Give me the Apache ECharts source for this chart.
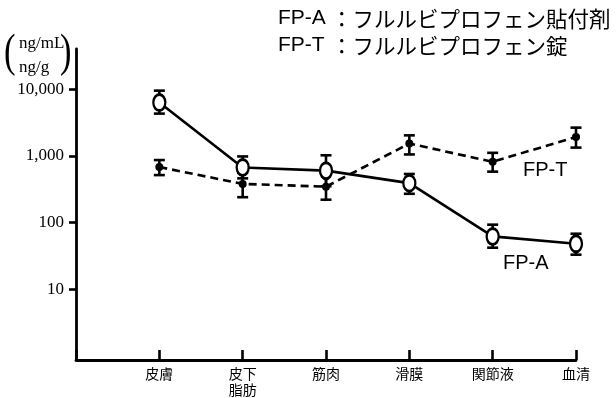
<!DOCTYPE html>
<html>
<head>
<meta charset="utf-8">
<script src="https://cdn.jsdelivr.net/npm/echarts@6/dist/echarts.min.js"></script>
<style>
  html, body { margin: 0; padding: 0; background: #fff; }
  #chart { width: 616px; height: 398px; }
</style>
</head>
<body>
<div id="chart"></div>
<script>
// Tissue / fluid categories on the x axis
const categories = ['皮膚', '皮下\n脂肪', '筋肉', '滑膜', '関節液', '血清'];

// FP-A (patch): mean concentration and error-bar limits
const fpaMean = [6300, 670, 600, 390, 62, 48];
const fpaLow  = [4300, 460, 350, 270, 42, 33];
const fpaHigh = [9500, 980, 1020, 535, 93, 68];

// FP-T (tablet): mean concentration and error-bar limits
const fptMean = [680, 380, 345, 1530, 815, 1920];
const fptLow  = [515, 240, 220, 1050, 580, 1330];
const fptHigh = [865, 560, 540, 2030, 1110, 2650];

// Y-axis tick values
const yTicks = [10, 100, 1000, 10000];

const pts = (arr) => arr.map((v, i) => [i + 1, v]);
const bars = (lo, hi) => lo.map((v, i) => [i + 1, v, hi[i]]);

function errorBar(params, api) {
  const x = api.value(0);
  const lo = api.coord([x, api.value(1)]);
  const hi = api.coord([x, api.value(2)]);
  const half = 5.5;
  const style = { stroke: '#000', lineWidth: 2.6, fill: null };
  return {
    type: 'group',
    children: [
      { type: 'line', shape: { x1: lo[0], y1: lo[1], x2: hi[0], y2: hi[1] }, style },
      { type: 'line', shape: { x1: lo[0] - half, y1: lo[1], x2: lo[0] + half, y2: lo[1] }, style },
      { type: 'line', shape: { x1: hi[0] - half, y1: hi[1], x2: hi[0] + half, y2: hi[1] }, style }
    ]
  };
}

const chart = echarts.init(document.getElementById('chart'), null, { renderer: 'canvas' });

const serif = '"Liberation Serif", "DejaVu Serif", serif';
const sans = '"Liberation Sans", "Noto Sans CJK JP", sans-serif';
const cjk = '"Noto Sans CJK JP", sans-serif';

chart.setOption({
  animation: false,
  backgroundColor: '#fff',
  grid: { left: 76, right: 40, top: 49, bottom: 37 },
  xAxis: {
    type: 'value',
    min: 0,
    max: categories.length,
    interval: 1,
    splitLine: { show: false },
    axisLine: { lineStyle: { color: '#000', width: 2.8 } },
    axisTick: { inside: true, length: 10, lineStyle: { color: '#000', width: 2.6 } },
    axisLabel: {
      margin: 6,
      color: '#000',
      fontFamily: cjk,
      fontSize: 14,
      lineHeight: 16,
      verticalAlign: 'top',
      formatter: (v) => (v >= 1 && v <= categories.length) ? categories[v - 1] : ''
    }
  },
  yAxis: {
    type: 'log',
    logBase: 10,
    min: 0.87,
    max: 40000,
    splitLine: { show: false },
    axisLine: { show: true, lineStyle: { color: '#000', width: 2.8 } },
    axisTick: { show: true, length: 7, customValues: yTicks, lineStyle: { color: '#000', width: 2.6 } },
    axisLabel: {
      margin: 12,
      color: '#000',
      fontFamily: serif,
      fontSize: 17,
      customValues: yTicks,
      formatter: (v) => Math.round(v).toLocaleString('en-US')
    }
  },
  series: [
    {
      name: 'FP-T',
      type: 'line',
      data: pts(fptMean),
      z: 2,
      symbol: 'circle',
      symbolSize: 8,
      lineStyle: { color: '#000', width: 2.6, type: [8, 5] },
      itemStyle: { color: '#000', borderColor: '#000', borderWidth: 0 }
    },
    {
      name: 'FP-T-err',
      type: 'custom',
      data: bars(fptLow, fptHigh),
      renderItem: errorBar,
      z: 3
    },
    {
      name: 'FP-A-err',
      type: 'custom',
      data: bars(fpaLow, fpaHigh),
      renderItem: errorBar,
      z: 3
    },
    {
      name: 'FP-A',
      type: 'line',
      data: pts(fpaMean),
      z: 4,
      symbol: 'circle',
      symbolSize: [12, 16],
      lineStyle: { color: '#000', width: 2.6 },
      itemStyle: { color: '#fff', borderColor: '#000', borderWidth: 2.6 }
    }
  ],
  graphic: [
    // unit label with large parentheses
    { type: 'text', left: 4, top: 31, style: { text: '(', font: '46px ' + serif, fill: '#000' }, scaleX: 0.75 },
    { type: 'text', left: 60, top: 31, style: { text: ')', font: '46px ' + serif, fill: '#000' }, scaleX: 0.75 },
    { type: 'text', left: 19, top: 35, style: { text: 'ng/mL', font: '17px ' + serif, fill: '#000' } },
    { type: 'text', left: 19, top: 59, style: { text: 'ng/g', font: '17px ' + serif, fill: '#000' } },
    // key in the top-right corner
    { type: 'text', left: 278, top: 8, style: { text: 'FP-A', font: '21px ' + sans, fill: '#000' } },
    { type: 'text', left: 331, top: 8, style: { text: '：フルルビプロフェン貼付剤', font: '21.5px ' + cjk, fill: '#000' } },
    { type: 'text', left: 278, top: 35, style: { text: 'FP-T', font: '21px ' + sans, fill: '#000' } },
    { type: 'text', left: 331, top: 35, style: { text: '：フルルビプロフェン錠', font: '21.5px ' + cjk, fill: '#000' } },
    // series labels inside the plot
    { type: 'text', left: 523, top: 160, style: { text: 'FP-T', font: '20px ' + sans, fill: '#000' } },
    { type: 'text', left: 503, top: 253, style: { text: 'FP-A', font: '20px ' + sans, fill: '#000' } }
  ]
});
</script>
</body>
</html>
